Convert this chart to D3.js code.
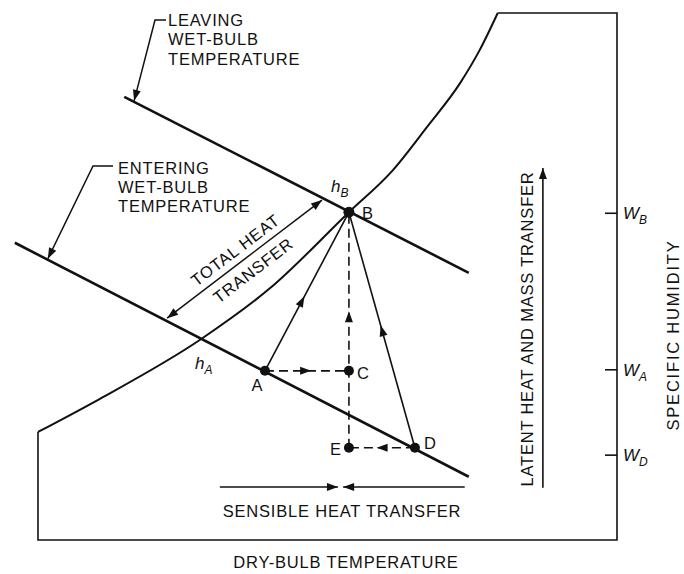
<!DOCTYPE html>
<html>
<head>
<meta charset="utf-8">
<script src="https://cdn.jsdelivr.net/npm/d3@7"></script>
<style>
body { margin: 0; background: #fff; }
svg text { font-family: "Liberation Sans", Arial, sans-serif; fill: #111; font-size: 16.5px; letter-spacing: 0.8px; }
</style>
</head>
<body>
<svg id="chart" width="684" height="574"></svg>
<script>
// saturation curve, chart units (dry-bulb 0..100, specific humidity 0..100)
var satDryBulb  = [0, 10.7, 28.0, 40.1, 53.7, 61.3, 67.2, 72.9, 76.3, 79.4];
var satHumidity = [20.5, 26.8, 38.0, 47.8, 62.2, 70.2, 78.4, 86.7, 93.0, 100];

// state points
var pointNames    = ["A", "B", "C", "D", "E"];
var pointDryBulb  = [39.2, 53.7, 53.7, 65.1, 53.7];
var pointHumidity = [32.1, 62.2, 32.1, 17.5, 17.5];

// wet-bulb lines (start and end)
var wetBulbNames = ["ENTERING", "LEAVING"];
var wetBulbX1 = [-4.0, 14.9];
var wetBulbY1 = [56.4, 84.1];
var wetBulbX2 = [74.4, 74.4];
var wetBulbY2 = [12.0, 50.7];

// processes between points
var processFrom   = ["A", "D", "A", "D", "E"];
var processTo     = ["B", "B", "C", "E", "B"];
var processDashed = [false, false, true, true, true];

// specific humidity marks on the right axis
var humidityTickNames  = ["B", "A", "D"];
var humidityTickValues = [62.0, 32.3, 16.1];

var svg = d3.select("#chart");
var x = d3.scaleLinear().domain([0, 100]).range([38, 617]);
var y = d3.scaleLinear().domain([0, 100]).range([540, 13]);

function pt(name) {
	var i = pointNames.indexOf(name);
	return [x(pointDryBulb[i]), y(pointHumidity[i])];
}

// filled arrow head, tip at (x1,y1), pointing away from (x0,y0)
function head(g, x0, y0, x1, y1) {
	var a = Math.atan2(y1 - y0, x1 - x0);
	var len = 11, hw = 4;
	var bx = x1 - len * Math.cos(a), by = y1 - len * Math.sin(a);
	var px = -Math.sin(a) * hw, py = Math.cos(a) * hw;
	g.append("path")
		.attr("d", "M" + x1 + "," + y1 + "L" + (bx + px) + "," + (by + py) +
			"L" + (bx - px) + "," + (by - py) + "Z")
		.attr("fill", "#111");
}

// frame + saturation curve
var sat = satDryBulb.map(function(d, i) { return [d, satHumidity[i]]; });
var line = d3.line()
	.x(function(d) { return x(d[0]); })
	.y(function(d) { return y(d[1]); })
	.curve(d3.curveMonotoneX);

svg.append("path")
	.attr("d", line(sat))
	.attr("fill", "none").attr("stroke", "#111").attr("stroke-width", 2);

var satTop = sat[sat.length - 1];
svg.append("path")
	.attr("d", d3.line()([[x(satTop[0]), y(100)], [x(100), y(100)], [x(100), y(0)],
		[x(0), y(0)], [x(0), y(sat[0][1])]]))
	.attr("fill", "none").attr("stroke", "#111").attr("stroke-width", 1.6);

// wet-bulb lines
wetBulbNames.forEach(function(n, i) {
	svg.append("line")
		.attr("x1", x(wetBulbX1[i])).attr("y1", y(wetBulbY1[i]))
		.attr("x2", x(wetBulbX2[i])).attr("y2", y(wetBulbY2[i]))
		.attr("stroke", "#111").attr("stroke-width", 2.6);
});

function wetBulbAt(i, xv) {
	var t = (xv - wetBulbX1[i]) / (wetBulbX2[i] - wetBulbX1[i]);
	return wetBulbY1[i] + t * (wetBulbY2[i] - wetBulbY1[i]);
}

// leader lines for wet-bulb labels
var leaders = [
	{ i: 0, corner: [93, 166], end: [113, 166], tipX: 1.7, tx: 118, ty: [174, 193, 212] },
	{ i: 1, corner: [155, 20], end: [166, 20], tipX: 16.6, tx: 168, ty: [26, 45, 65] }
];
leaders.forEach(function(l) {
	var tip = [x(l.tipX), y(wetBulbAt(l.i, l.tipX)) - 1];
	svg.append("path")
		.attr("d", d3.line()([l.end, l.corner, tip]))
		.attr("fill", "none").attr("stroke", "#111").attr("stroke-width", 1.5);
	head(svg, l.corner[0], l.corner[1], tip[0], tip[1]);
	var words = [wetBulbNames[l.i], "WET-BULB", "TEMPERATURE"];
	words.forEach(function(w, k) {
		svg.append("text").attr("x", l.tx).attr("y", l.ty[k]).text(w);
	});
});

// processes
var arrowAt = [0.47, 0.52, 0.55, 0.58, 0.58];
processFrom.forEach(function(f, i) {
	var a = pt(f), b = pt(processTo[i]);
	svg.append("line")
		.attr("x1", a[0]).attr("y1", a[1]).attr("x2", b[0]).attr("y2", b[1])
		.attr("stroke", "#111").attr("stroke-width", 1.6)
		.attr("stroke-dasharray", processDashed[i] ? "9,5" : null);
	var t = arrowAt[i];
	head(svg, a[0], a[1], a[0] + t * (b[0] - a[0]), a[1] + t * (b[1] - a[1]));
});

// state points
pointNames.forEach(function(n) {
	var p = pt(n);
	svg.append("circle").attr("cx", p[0]).attr("cy", p[1])
		.attr("r", n == "B" ? 5.5 : 5).attr("fill", "#111");
});
var labelPos = { A: [-8, 20, "middle"], B: [13, 7, "start"], C: [8, 8, "start"],
	D: [9, 1, "start"], E: [-8, 7, "end"] };
pointNames.forEach(function(n) {
	var p = pt(n), o = labelPos[n];
	svg.append("text").attr("x", p[0] + o[0]).attr("y", p[1] + o[1])
		.attr("text-anchor", o[2]).style("letter-spacing", "0px").text(n);
});

// enthalpy labels
function subLabel(main, sub, px, py) {
	var t = svg.append("text").attr("x", px).attr("y", py)
		.style("font-style", "italic").style("font-size", "17px").style("letter-spacing", "0px");
	t.append("tspan").text(main);
	t.append("tspan").attr("dy", 5).style("font-size", "12px").text(sub);
}
subLabel("h", "B", 331, 192);
subLabel("h", "A", 195, 369);

// total heat transfer arrow
var th = [[x(22.3), y(42.1)], [x(49.05), y(64.5)]];
svg.append("line")
	.attr("x1", th[0][0]).attr("y1", th[0][1]).attr("x2", th[1][0]).attr("y2", th[1][1])
	.attr("stroke", "#111").attr("stroke-width", 1.5);
head(svg, th[1][0], th[1][1], th[0][0], th[0][1]);
head(svg, th[0][0], th[0][1], th[1][0], th[1][1]);
var ang = Math.atan2(th[1][1] - th[0][1], th[1][0] - th[0][0]) * 180 / Math.PI;
var thg = svg.append("g").attr("transform", "translate(" + (th[0][0] + th[1][0]) / 2 + "," +
	(th[0][1] + th[1][1]) / 2 + ") rotate(" + ang + ")");
thg.append("text").attr("x", -2).attr("y", -7).attr("text-anchor", "middle").text("TOTAL HEAT");
thg.append("text").attr("x", 0).attr("y", 20).attr("text-anchor", "middle").text("TRANSFER");

// sensible heat transfer arrows
var sy = y(10.06);
[[31.4, 51.8], [73.7, 52.7]].forEach(function(s) {
	svg.append("line").attr("x1", x(s[0])).attr("y1", sy).attr("x2", x(s[1])).attr("y2", sy)
		.attr("stroke", "#111").attr("stroke-width", 1.6);
	head(svg, x(s[0]), sy, x(s[1]), sy);
});
svg.append("text").attr("x", 342).attr("y", 517).attr("text-anchor", "middle")
	.text("SENSIBLE HEAT TRANSFER");

// latent heat arrow
var lx = x(87.2);
svg.append("line").attr("x1", lx).attr("y1", y(9.9)).attr("x2", lx).attr("y2", y(70.6))
	.attr("stroke", "#111").attr("stroke-width", 1.6);
head(svg, lx, y(9.9), lx, y(70.6));
svg.append("text").attr("transform", "translate(533,329) rotate(-90)")
	.attr("text-anchor", "middle").text("LATENT HEAT AND MASS TRANSFER");

// humidity axis marks
humidityTickNames.forEach(function(n, i) {
	var ty = y(humidityTickValues[i]);
	svg.append("line").attr("x1", x(100) - 12).attr("x2", x(100)).attr("y1", ty).attr("y2", ty)
		.attr("stroke", "#111").attr("stroke-width", 1.6);
	var t = svg.append("text").attr("x", x(100) + 6).attr("y", ty + 6)
		.style("font-style", "italic").style("font-size", "17px").style("letter-spacing", "0px");
	t.append("tspan").text("W");
	t.append("tspan").attr("dy", 5).style("font-size", "12px").text(n);
});
svg.append("text").attr("transform", "translate(679,335) rotate(-90)")
	.attr("text-anchor", "middle").style("letter-spacing", "1.8px").text("SPECIFIC HUMIDITY");

svg.append("text").attr("x", 346).attr("y", 568).attr("text-anchor", "middle")
	.text("DRY-BULB TEMPERATURE");
</script>
</body>
</html>
